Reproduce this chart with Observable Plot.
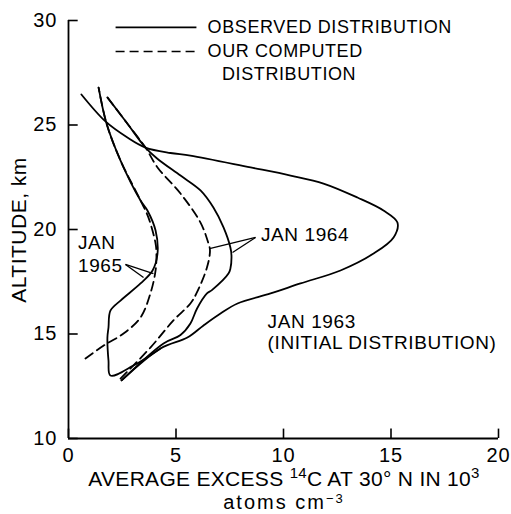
<!DOCTYPE html>
<html>
<head>
<meta charset="utf-8">
<script src="https://cdn.jsdelivr.net/npm/d3@7"></script>
<script src="https://cdn.jsdelivr.net/npm/@observablehq/plot@0.6"></script>
<style>
  html, body { margin: 0; padding: 0; background: #fff; }
  #chart { width: 511px; height: 514px; }
</style>
</head>
<body>
<div id="chart"></div>
<script>
// ---- Data ----
const xTicks = [0, 5, 10, 15, 20];
const yTicks = [10, 15, 20, 25, 30];

// [excess 14C (10^3 atoms cm^-3), altitude km]
const observed1963 = [
  [2.47,12.78],[4.28,14.31],[5.53,14.83],[6.28,15.41],[7.07,15.98],[7.86,16.46],
  [9.40,16.94],[10.79,17.42],[12.65,18.04],[14.19,18.85],[15.12,19.62],[15.30,20.33],
  [14.65,20.91],[13.44,21.53],[11.86,22.20],[10.33,22.58],[8.47,22.97],[5.67,23.54],
  [4.74,23.66],[3.58,23.92],[2.74,24.40],[1.72,25.17],[0.60,26.46]
];
const observed1964 = [
  [2.47,12.78],[4.42,14.55],[5.21,14.95],[5.67,15.50],[5.98,16.22],[6.44,16.94],
  [6.67,17.10],[7.44,17.89],[7.53,18.13],[7.58,18.76],[7.53,19.14],[7.21,20.10],
  [6.74,21.05],[6.14,21.87],[5.21,22.58],[4.12,23.40],[3.58,23.92],[2.70,25.12],[1.81,26.32]
];
const computed1964 = [
  [2.42,12.87],[3.81,14.35],[4.88,15.65],[5.67,16.46],[5.95,16.94],[6.44,18.18],
  [6.58,19.00],[6.49,19.40],[6.14,20.33],[5.21,21.72],[4.14,22.97],[3.58,23.92],
  [2.70,25.12],[1.81,26.32]
];
const observed1965 = [
  [4.28,14.31],[3.02,13.49],[1.95,13.01],[1.86,13.73],[1.81,14.83],[1.86,15.31],
  [1.95,16.12],[2.42,16.60],[3.35,17.42],[3.91,18.04],[4.14,18.85],[4.05,19.95],
  [3.67,20.91],[3.35,21.39],[2.42,23.30],[1.77,25.07],[1.40,26.79]
];
const computed1965 = [
  [0.79,13.83],[1.72,14.50],[2.56,15.02],[3.35,15.79],[3.81,16.94],[4.05,18.04],
  [4.09,18.85],[4.05,19.33],[3.72,20.57],[3.35,21.39],[2.42,23.30],[1.77,25.07],[1.40,26.79]
];

// legend entries
const legendLines = [
  {x1: 2.19, x2: 5.95, y: 29.67, dash: null},
  {x1: 2.19, x2: 5.95, y: 28.52, dash: "9,5"}
];
const legendTexts = [
  {x: 6.47, y: 29.67, text: "OBSERVED DISTRIBUTION"},
  {x: 6.47, y: 28.52, text: "OUR COMPUTED"},
  {x: 7.14, y: 27.45, text: "DISTRIBUTION"}
];
// annotations
const labels = [
  {x: 0.44, y: 19.38, text: "JAN"},
  {x: 0.44, y: 18.28, text: "1965"},
  {x: 8.95, y: 19.72, text: "JAN 1964"},
  {x: 9.26, y: 15.60, text: "JAN 1963"},
  {x: 9.26, y: 14.59, text: "(INITIAL DISTRIBUTION)"}
];
const pointers = [
  {x1: 8.70, y1: 19.62, x2: 6.56, y2: 19.09},
  {x1: 8.70, y1: 19.62, x2: 7.63, y2: 18.90},
  {x1: 2.65, y1: 18.33, x2: 3.49, y2: 17.70},
  {x1: 2.65, y1: 18.33, x2: 3.95, y2: 17.89}
];

const FONT = "'Liberation Sans', Arial, Helvetica, sans-serif";
const px = d => d[0], py = d => d[1];
const lineOpts = {x: px, y: py, curve: "catmull-rom", stroke: "black", strokeWidth: 1.8};

const plot = Plot.plot({
  width: 511,
  height: 514,
  marginLeft: 68,
  marginRight: 13,
  marginTop: 20,
  marginBottom: 76,
  x: {domain: [0, 20]},
  y: {domain: [10, 30]},
  style: {fontFamily: FONT, fontSize: "18px", color: "black", background: "white", overflow: "visible"},
  marks: [
    Plot.ruleX([0], {y1: 10, y2: 30, stroke: "black", strokeWidth: 1.8}),
    Plot.ruleY([10], {x1: 0, x2: 20, stroke: "black", strokeWidth: 1.8}),
    Plot.ruleY(yTicks, {x1: 0, x2: 0.45, stroke: "black", strokeWidth: 1.6}),
    Plot.ruleX(xTicks, {y1: 10, y2: 10.45, stroke: "black", strokeWidth: 1.6}),
    Plot.axisY(yTicks, {tickSize: 0, tickPadding: 11, label: null, fontSize: 20}),
    Plot.axisX(xTicks, {tickSize: 0, tickPadding: 9, label: null, fontSize: 20}),
    Plot.line(observed1963, lineOpts),
    Plot.line(observed1964, lineOpts),
    Plot.line(observed1965, lineOpts),
    Plot.line(computed1964, {...lineOpts, strokeDasharray: "9,5"}),
    Plot.line(computed1965, {...lineOpts, strokeDasharray: "9,5"}),
    Plot.link(pointers, {x1: "x1", y1: "y1", x2: "x2", y2: "y2", stroke: "black", strokeWidth: 1.3}),
    Plot.link(legendLines.filter(d => !d.dash), {x1: "x1", x2: "x2", y1: "y", y2: "y", stroke: "black", strokeWidth: 1.6}),
    Plot.link(legendLines.filter(d => d.dash), {x1: "x1", x2: "x2", y1: "y", y2: "y", stroke: "black", strokeWidth: 1.6, strokeDasharray: "9,5"}),
    Plot.text(legendTexts, {x: "x", y: "y", text: "text", textAnchor: "start", fontSize: 18, fill: "black", className: "lg"}),
    Plot.text(labels, {x: "x", y: "y", text: "text", textAnchor: "start", fontSize: 19, fill: "black", className: "lb"})
  ]
});

const svg = d3.select(plot);
svg.selectAll(".lg text, .lb text").attr("letter-spacing", 0.6);
svg.selectAll("[aria-label^='y-axis'] text").attr("letter-spacing", 1);
svg.selectAll("[aria-label^='x-axis'] text").attr("letter-spacing", 1);

// Axis titles with super/subscripts
svg.append("text")
  .attr("transform", "translate(26,230) rotate(-90)")
  .attr("text-anchor", "middle")
  .attr("font-family", FONT).attr("font-size", 21).attr("fill", "black")
  .attr("letter-spacing", 0.5)
  .text("ALTITUDE, km");

const xl = svg.append("text")
  .attr("x", 284).attr("y", 486)
  .attr("text-anchor", "middle")
  .attr("font-family", FONT).attr("font-size", 21).attr("fill", "black")
  .attr("letter-spacing", 0.3);
xl.append("tspan").text("AVERAGE EXCESS ");
xl.append("tspan").attr("font-size", 15).attr("dy", -8).text("14");
xl.append("tspan").attr("dy", 8).text("C AT 30° N IN 10");
xl.append("tspan").attr("font-size", 15).attr("dy", -8).text("3");

const xl2 = svg.append("text")
  .attr("x", 284).attr("y", 509)
  .attr("text-anchor", "middle")
  .attr("font-family", FONT).attr("font-size", 20).attr("fill", "black")
  .attr("letter-spacing", 2);
xl2.append("tspan").text("atoms cm");
xl2.append("tspan").attr("font-size", 13).attr("dy", -6).text("−3");

document.getElementById("chart").appendChild(plot);
</script>
</body>
</html>
